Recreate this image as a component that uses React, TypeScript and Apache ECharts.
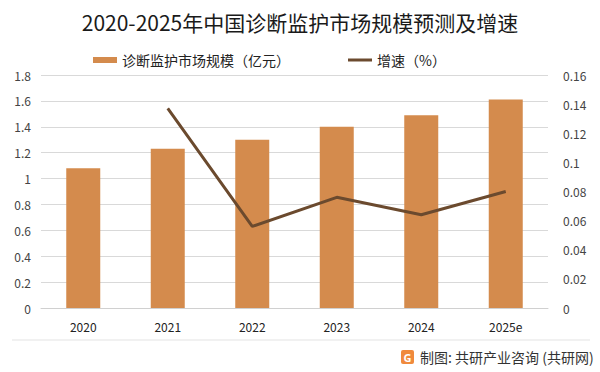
import React, { useEffect, useRef } from "react";
import * as echarts from "echarts";

const categories = ["2020", "2021", "2022", "2023", "2024", "2025e"];
const marketSize = [1.08, 1.23, 1.3, 1.4, 1.49, 1.61];
const growth = [null, 0.137, 0.056, 0.076, 0.064, 0.08];
const leftTicks = { min: 0, max: 1.8, interval: 0.2 };
const rightTicks = { min: 0, max: 0.16, interval: 0.02 };

const FONT = "'Noto Sans CJK SC', 'Noto Sans', sans-serif";

export default function App() {
  const ref = useRef<HTMLDivElement>(null);
  useEffect(() => {
    document.body.style.margin = "0";
    const chart = echarts.init(ref.current!, null, { renderer: "svg" });
    chart.setOption({
      animation: false,
      backgroundColor: "#ffffff",
      textStyle: { fontFamily: FONT },
      title: {
        text: "2020-2025年中国诊断监护市场规模预测及增速",
        left: "center",
        top: 6,
        textStyle: { fontSize: 21, fontWeight: "normal", color: "#1a1a1a", fontFamily: FONT },
      },
      legend: [
        {
          data: ["诊断监护市场规模（亿元）"],
          left: 88,
          top: 48,
          itemWidth: 24,
          itemHeight: 6,
          icon: "rect",
          textStyle: { fontSize: 14, color: "#222", fontFamily: FONT },
        },
        {
          data: ["增速（%）"],
          left: 343,
          top: 48,
          itemWidth: 24,
          itemHeight: 3,
          icon: "rect",
          textStyle: { fontSize: 14, color: "#222", fontFamily: FONT },
        },
      ],
      grid: { left: 41, right: 52, top: 75, bottom: 64 },
      xAxis: {
        type: "category",
        data: categories,
        axisLine: { lineStyle: { color: "#d0d0d0" } },
        axisTick: { show: false },
        axisLabel: { color: "#222", fontSize: 12, margin: 12, fontFamily: FONT },
      },
      yAxis: [
        {
          type: "value",
          ...leftTicks,
          axisLine: { show: false },
          axisTick: { show: false },
          splitLine: { lineStyle: { color: "#d9d9d9" } },
          axisLabel: { color: "#444", fontSize: 12, margin: 10, fontFamily: FONT },
        },
        {
          type: "value",
          ...rightTicks,
          axisLine: { show: false },
          axisTick: { show: false },
          splitLine: { show: false },
          axisLabel: { color: "#444", fontSize: 12, margin: 15, fontFamily: FONT },
        },
      ],
      series: [
        {
          name: "诊断监护市场规模（亿元）",
          type: "bar",
          data: marketSize,
          barWidth: 34,
          itemStyle: { color: "#D48B4D" },
        },
        {
          name: "增速（%）",
          type: "line",
          yAxisIndex: 1,
          data: growth,
          symbol: "none",
          lineStyle: { color: "#6B4A2E", width: 3 },
          itemStyle: { color: "#6B4A2E" },
        },
      ],
      graphic: [
        {
          type: "line",
          shape: { x1: 12, y1: 340, x2: 590, y2: 340 },
          style: { stroke: "#e3e3e3", lineWidth: 1 },
        },
        {
          type: "rect",
          shape: { x: 401, y: 350, width: 13, height: 14, r: 2 },
          style: { fill: "#F08A3C" },
        },
        {
          type: "text",
          x: 407.5,
          y: 357,
          style: {
            text: "G",
            fill: "#ffffff",
            font: "bold 11px 'Noto Sans', sans-serif",
            align: "center",
            verticalAlign: "middle",
          },
        },
        {
          type: "text",
          x: 420,
          y: 357,
          style: {
            text: "制图: 共研产业咨询 (共研网)",
            fill: "#333",
            font: "14px 'Noto Sans CJK SC', sans-serif",
            verticalAlign: "middle",
          },
        },
      ],
    });
    return () => chart.dispose();
  }, []);
  return (
    <div
      ref={ref}
      style={{ position: "absolute", left: 0, top: 0, width: 600, height: 372 }}
    />
  );
}
